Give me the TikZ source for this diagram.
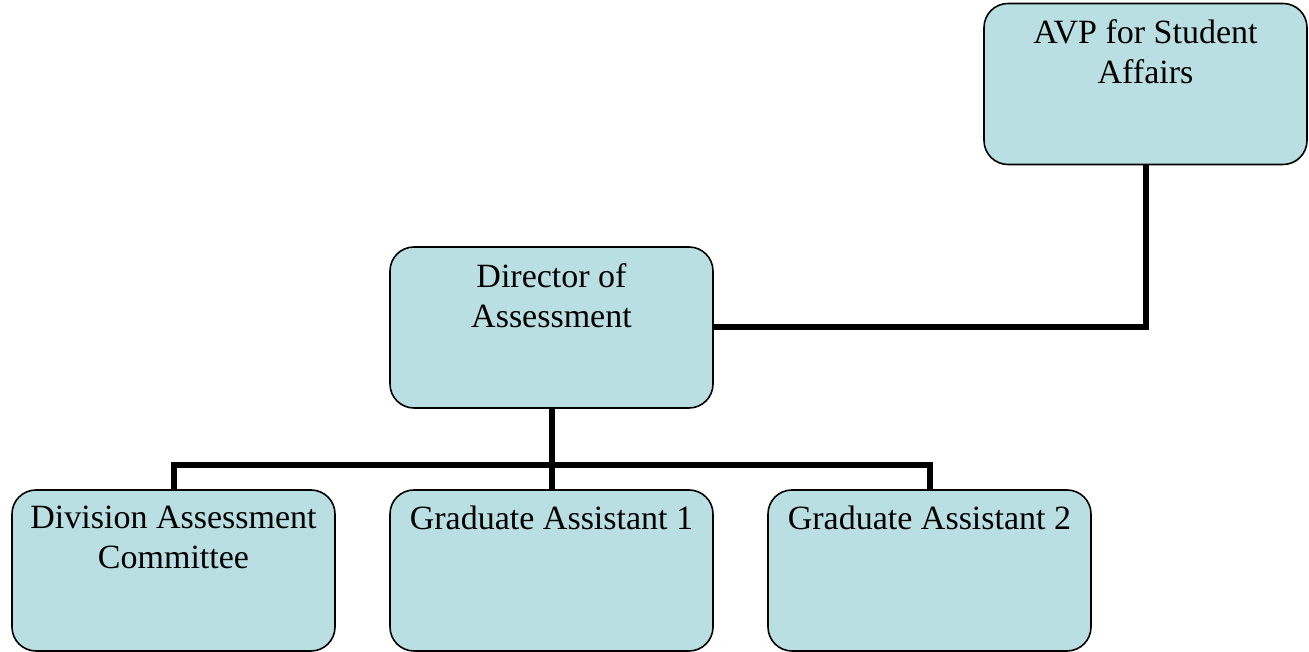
\documentclass[tikz,border=0pt]{standalone}
\usepackage{fontspec}
\setmainfont{Liberation Serif}
\usetikzlibrary{backgrounds}
\definecolor{boxfill}{HTML}{B9DFE2}
\tikzset{
  orgbox/.style={draw=black, line width=1.6pt, fill=boxfill, rounded corners=24pt,
    minimum width=323pt, minimum height=161pt, inner sep=0pt},
  boxtext/.style={anchor=north, align=center, inner sep=0pt,
    font=\fontsize{34}{40}\selectfont},
  link/.style={line width=6pt, line join=miter}
}
\begin{document}
\begin{tikzpicture}[x=1pt,y=1pt]
\useasboundingbox (0,0) rectangle (1309,652);
\node[orgbox] (avp) at (1145.5,568) {};
\node[orgbox] (dir) at (551.5,324.5) {};
\node[orgbox] (div) at (173.5,81.5) {};
\node[orgbox] (ga1) at (551.5,81.5) {};
\node[orgbox] (ga2) at (929.5,81.5) {};
\node[boxtext] (avpt) at ([yshift=-17pt]avp.north) {AVP for Student\\Affairs};
\node[boxtext] (dirt) at ([yshift=-17pt]dir.north) {Director of\\Assessment};
\node[boxtext] (divt) at ([yshift=-17pt]div.north) {Division Assessment\\Committee};
\node[boxtext] (ga1t) at ([yshift=-17pt]ga1.north) {Graduate Assistant 1};
\node[boxtext] (ga2t) at ([yshift=-17pt]ga2.north) {Graduate Assistant 2};
\coordinate (bar) at (0,187);
\begin{scope}[on background layer]
\draw[link] (avp.south) |- (dir.east);
\draw[link] (dir.south) -- (ga1.north);
\draw[link] (div.north) -- (div.north |- bar) -| (ga2.north);
\end{scope}
\end{tikzpicture}
\end{document}
